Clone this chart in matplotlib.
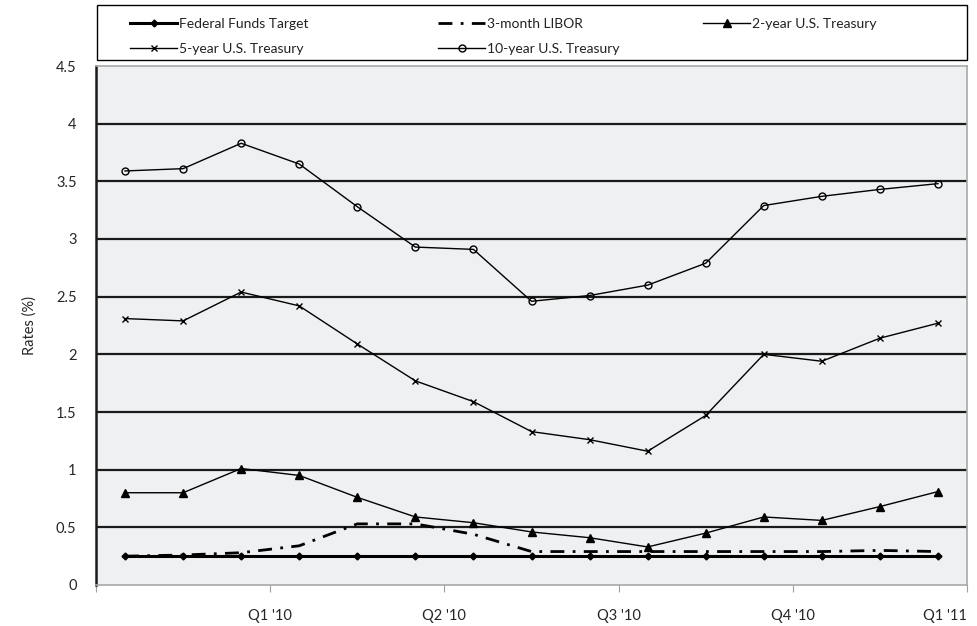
import matplotlib
matplotlib.use("Agg")
import matplotlib.pyplot as plt
from matplotlib.transforms import ScaledTranslation
from matplotlib.patches import Rectangle

plt.rcParams['font.family'] = ['Lato', 'DejaVu Sans']

fed_funds = [0.25, 0.25, 0.25, 0.25, 0.25, 0.25, 0.25, 0.25, 0.25, 0.25, 0.25, 0.25, 0.25, 0.25, 0.25]
libor_3m = [0.25, 0.26, 0.28, 0.34, 0.53, 0.53, 0.44, 0.29, 0.29, 0.29, 0.29, 0.29, 0.29, 0.30, 0.29]
ust_2y = [0.80, 0.80, 1.01, 0.95, 0.76, 0.59, 0.54, 0.46, 0.41, 0.33, 0.45, 0.59, 0.56, 0.68, 0.81]
ust_5y = [2.31, 2.29, 2.54, 2.42, 2.09, 1.77, 1.59, 1.33, 1.26, 1.16, 1.47, 2.00, 1.94, 2.14, 2.27]
ust_10y = [3.59, 3.61, 3.83, 3.65, 3.28, 2.93, 2.91, 2.46, 2.51, 2.60, 2.79, 3.29, 3.37, 3.43, 3.48]
quarter_labels = ["", "Q1 '10", "Q2 '10", "Q3 '10", "Q4 '10", "Q1 '11"]
y_ticks = [0, 0.5, 1, 1.5, 2, 2.5, 3, 3.5, 4, 4.5]

fig = plt.figure(figsize=(9.77, 6.26), dpi=100)
ax = fig.add_axes([96/977, 1-585/626, (967-96)/977, (585-66)/626])
ax.set_facecolor('#EFF0F2')

x = list(range(len(fed_funds)))

h_ff, = ax.plot(x, fed_funds, color='black', lw=2.2, marker='D', ms=3.5, label='Federal Funds Target', zorder=5)
h_lib, = ax.plot(x, libor_3m, color='black', lw=2.0, linestyle=(0, (5, 3, 1, 3)), label='3-month LIBOR', zorder=4)
h_2y, = ax.plot(x, ust_2y, color='black', lw=1.0, marker='^', ms=6, label='2-year U.S. Treasury', zorder=4)
h_5y, = ax.plot(x, ust_5y, color='black', lw=1.0, marker='x', ms=5, mew=1.0, label='5-year U.S. Treasury', zorder=4)
h_10y, = ax.plot(x, ust_10y, color='black', lw=1.0, marker='o', ms=5, mfc='none', mew=1.0, label='10-year U.S. Treasury', zorder=4)

ax.set_xlim(-0.5, 14.5)
ax.set_ylim(0, 4.5)
ax.set_yticks(y_ticks)
ax.set_yticklabels([('%g' % v) for v in y_ticks], fontsize=10.5, color='#262626')
for v in y_ticks:
    if 0 < v < 4.5:
        ax.axhline(v, color='#1a1a1a', lw=1.6, zorder=2)

xt = [-0.5, 2.5, 5.5, 8.5, 11.5, 14.5]
ax.set_xticks(xt)
ax.set_xticklabels(quarter_labels, fontsize=10.5, color='#262626')
offset = ScaledTranslation(-14/100, 0, fig.dpi_scale_trans)
for lab in ax.get_xticklabels():
    lab.set_transform(lab.get_transform() + offset)
last = ax.get_xticklabels()[-1]
last.set_horizontalalignment('right')
last.set_transform(last.get_transform() + ScaledTranslation(24/100, 0, fig.dpi_scale_trans))

ax.tick_params(axis='y', length=0, pad=14)
ax.tick_params(axis='x', length=5, color='#A0A0A0', pad=12)

ax.spines['left'].set_color('#1a1a1a')
ax.spines['left'].set_linewidth(1.8)
for s in ['right', 'top', 'bottom']:
    ax.spines[s].set_color('#A8A8A8')
    ax.spines[s].set_linewidth(1.2)

ax.set_ylabel('Rates (%)', fontsize=10.5, color='#262626', labelpad=14)

# legend box
fig.patches.append(Rectangle((97/977, 1-60/626), (967-97)/977, 55/626,
                             transform=fig.transFigure, fill=False,
                             edgecolor='black', lw=1.0))

groups = [([h_ff, h_5y], 130), ([h_lib, h_10y], 438), ([h_2y], 703)]
for hs, xpx in groups:
    lg = fig.legend(handles=hs, labels=[h.get_label() for h in hs],
                    loc='upper left', bbox_to_anchor=(xpx/977, 1-18/626),
                    ncol=1, fontsize=10, frameon=False,
                    handlelength=3.4, handletextpad=0.15,
                    borderpad=0, borderaxespad=0, labelspacing=0.95)
    for t in lg.get_texts():
        t.set_color('#222222')

fig.savefig('out.png', dpi=100)
